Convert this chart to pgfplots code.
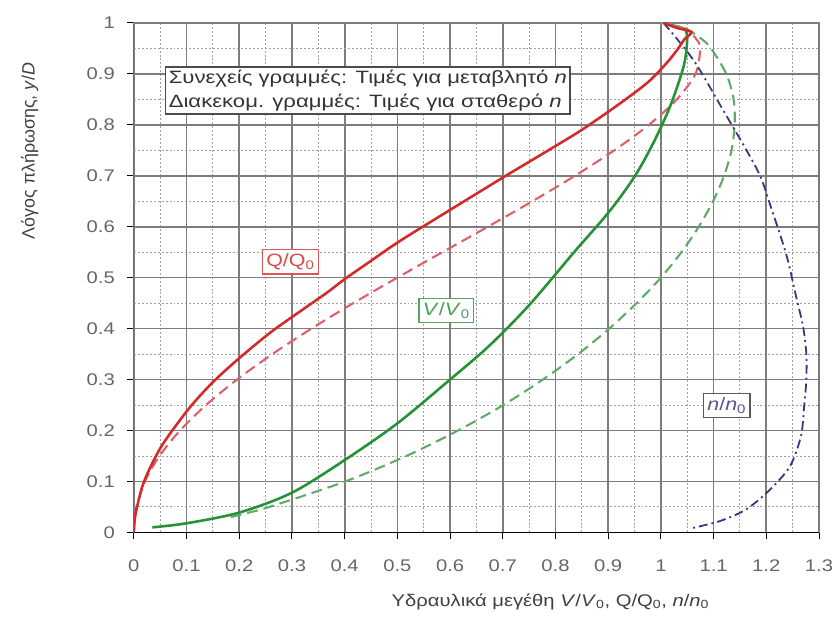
\documentclass[border=0pt]{standalone}
\usepackage{pgfplots}
\pgfplotsset{compat=1.18}
\usepackage{fontspec}
\setmainfont{Liberation Sans}
\definecolor{cred}{RGB}{212,42,42}
\definecolor{cred2}{RGB}{220,95,105}
\definecolor{cgreen}{RGB}{38,145,55}
\definecolor{cgreen2}{RGB}{95,170,105}
\definecolor{cblue}{RGB}{55,55,125}
\definecolor{gridc}{RGB}{125,125,125}
\definecolor{gridm}{RGB}{160,160,160}
\newcommand{\hs}[1]{\scalebox{1.2}[1]{#1}}
\begin{document}
\fontsize{18}{24}\selectfont
\begin{tikzpicture}
\begin{axis}[name=ax, at={(0,0)}, anchor=south west,
  scale only axis, width=691pt, height=514pt,
  xmin=0, xmax=1.3, ymin=0, ymax=1,
  xtick={0,0.1,0.2,0.3,0.4,0.5,0.6,0.7,0.8,0.9,1,1.1,1.2,1.3},
  ytick={0,0.1,0.2,0.3,0.4,0.5,0.6,0.7,0.8,0.9,1},
  minor xtick={0.05,0.15,0.25,0.35,0.45,0.55,0.65,0.75,0.85,0.95,1.05,1.15,1.25},
  minor ytick={0.05,0.15,0.25,0.35,0.45,0.55,0.65,0.75,0.85,0.95},
  grid=both,
  major grid style={draw=gridc, line width=1.7pt, solid},
  minor grid style={draw=gridm, line width=1pt, dash pattern=on 2pt off 2pt},
  tick pos=left, tick align=outside, major tick length=7pt, minor tick length=0pt,
  every tick/.style={black, line width=1pt},
  axis line style={gridc, line width=1pt},
  tick label style={text=black!60, font=\fontsize{17}{20}\selectfont},
  xticklabel={\hs{\pgfmathprintnumber{\tick}}},
  yticklabel={\hs{\pgfmathprintnumber{\tick}}},
  xticklabel style={yshift=-14pt},
  yticklabel style={xshift=-6pt},
  /pgf/number format/assume math mode=true,
  /pgf/number format/fixed, /pgf/number format/precision=1,
  xlabel={\hs{Υδραυλικά μεγέθη \textit{V}/\textit{V}\textsubscript{0}, Q/Q\textsubscript{0}, \textit{n}/\textit{n}\textsubscript{0}}},
  xlabel style={at={(axis description cs:0.608,-0.136)}, anchor=center, text=black!75, font=\fontsize{17}{20}\selectfont},
  ylabel={Λόγος πλήρωσης, \textit{y}/\textit{D}},
  ylabel style={at={(axis description cs:-0.152,0.749)}, anchor=center, text=black!75, font=\fontsize{18}{20}\selectfont},
]
% constant n, V/V0 (dashed green)
\addplot[cgreen2, line width=2.1pt, dash pattern=on 11pt off 6pt, smooth] coordinates {
(0.184,0.03) (0.222,0.04) (0.257,0.05) (0.401,0.1) (0.517,0.15) (0.615,0.2) (0.701,0.25)
(0.776,0.3) (0.843,0.35) (0.902,0.4) (0.954,0.45) (1.0,0.5) (1.039,0.55) (1.072,0.6)
(1.099,0.65) (1.120,0.7) (1.134,0.75) (1.140,0.8) (1.138,0.85) (1.124,0.9) (1.095,0.95)
(1.075,0.97) (1.044,0.99) (1.0,1.0)};
% constant n, Q/Q0 (dashed red)
\addplot[cred2, line width=2.1pt, dash pattern=on 11pt off 6pt, smooth] coordinates {
(0,0) (0.0007,0.02) (0.0048,0.05) (0.0209,0.1) (0.0486,0.15) (0.0876,0.2) (0.137,0.25)
(0.1958,0.3) (0.2629,0.35) (0.337,0.4) (0.4165,0.45) (0.5,0.5) (0.5857,0.55) (0.6719,0.6)
(0.7564,0.65) (0.8373,0.7) (0.9119,0.75) (0.9775,0.8) (1.0305,0.85) (1.0658,0.9)
(1.0745,0.95) (1.0658,0.97) (1.0419,0.99) (1.0,1.0)};
% n/n0 (dash dot blue)
\addplot[cblue, line width=1.8pt, dash pattern=on 9pt off 4pt on 2pt off 4pt, smooth] coordinates {
(1.005,1.0) (1.063,0.925) (1.119,0.827) (1.163,0.749) (1.189,0.698) (1.208,0.641)
(1.238,0.545) (1.257,0.461) (1.270,0.403) (1.276,0.35) (1.276,0.30) (1.272,0.25)
(1.266,0.19) (1.245,0.13) (1.208,0.085) (1.163,0.046) (1.114,0.023) (1.057,0.008)};
% variable n, V/V0 (solid green)
\addplot[cgreen, line width=2.6pt, smooth] coordinates {
(0.035,0.01) (0.1,0.018) (0.2,0.039) (0.3,0.078) (0.4,0.142) (0.5,0.214) (0.6,0.30)
(0.674,0.366) (0.75,0.446) (0.837,0.552) (0.9,0.627) (0.95,0.698) (0.988,0.769)
(1.019,0.84) (1.044,0.918) (1.05,0.971) (1.045,0.99)};
% variable n, Q/Q0 (solid red)
\addplot[cred, line width=2.6pt, smooth] coordinates {
(0,0) (0.003,0.035) (0.016,0.09) (0.03,0.125) (0.05,0.165) (0.075,0.203) (0.11,0.25)
(0.15,0.295) (0.2,0.342) (0.26,0.393) (0.32,0.437) (0.367,0.471) (0.40,0.497) (0.45,0.533)
(0.505,0.572) (0.605,0.636) (0.706,0.70) (0.79,0.752) (0.85,0.79) (0.92,0.84) (0.975,0.883)
(1.01,0.92) (1.031,0.947) (1.045,0.968) (1.058,0.982) (1.03,0.99) (1.005,1.0)};
\draw[black, line width=1.3pt] (rel axis cs:0,1) -- (rel axis cs:0,0) -- (rel axis cs:1,0);
\node[draw=black!70, line width=1.3pt, fill=white, align=left, inner sep=3pt, text=black!80]
  at (axis cs:0.444,0.867) {\scalebox{1.24}[1]{Συνεχείς γραμμές: Τιμές για μεταβλητό \textit{n}}\\\scalebox{1.24}[1]{Διακεκομ. γραμμές: Τιμές για σταθερό \textit{n}}};
\node[draw=cred!80, line width=1.3pt, fill=white, text=cred!85, inner sep=4pt]
  at (axis cs:0.297,0.531) {\hs{Q/Q\textsubscript{0}}};
\node[draw=cgreen!80, line width=1.3pt, fill=white, text=cgreen!85, inner sep=4pt]
  at (axis cs:0.593,0.436) {\hs{\textit{V}/\textit{V}\textsubscript{0}}};
\node[draw=black!65, line width=1.3pt, fill=white, text=cblue!85, inner sep=4pt]
  at (axis cs:1.125,0.249) {\hs{\textit{n}/\textit{n}\textsubscript{0}}};
\end{axis}
\useasboundingbox (ax.south west) ++(-135pt,-93pt) rectangle ++(839pt,630pt);
\end{tikzpicture}
\end{document}
